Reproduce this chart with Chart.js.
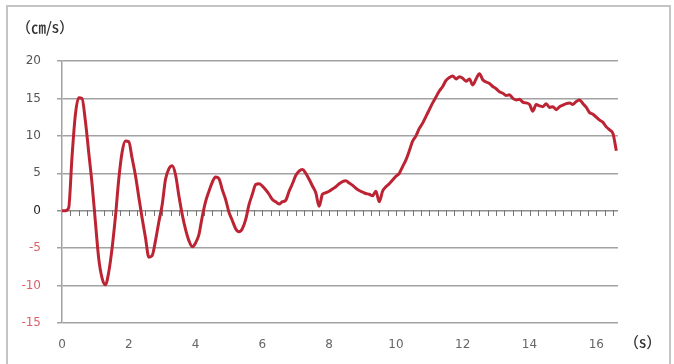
<!DOCTYPE html>
<html>
<head>
<meta charset="utf-8">
<script src="https://cdn.jsdelivr.net/npm/chart.js@4/dist/chart.umd.min.js"></script>
<style>
  html, body { margin: 0; padding: 0; background: #fff; }
  #wrap { position: relative; width: 674px; height: 364px; overflow: hidden; }
  #frame { position: absolute; left: 6px; top: 5px; width: 665px; height: 380px;
           border: 2px solid #c4c4c4; box-sizing: border-box; }
  #chart { position: absolute; left: 0; top: 0; }
  .unit { position: absolute; font-family: "Noto Sans CJK JP", sans-serif; color: #333; white-space: nowrap; }
  #yunit { left: 16px; top: 16px; font-size: 15px; font-weight: 500; }
  #xunit { left: 624px; top: 331px; font-size: 15px; font-weight: 500; }
</style>
</head>
<body>
<div id="wrap">
  <div id="frame"></div>
  <canvas id="chart" width="674" height="364"></canvas>
  <div class="unit" id="yunit">（㎝/s）</div>
  <div class="unit" id="xunit">（s）</div>
</div>
<script>
// Sample times (s)
const times = [
  0.0, 0.1, 0.2, 0.3, 0.4, 0.5, 0.6, 0.7, 0.8, 0.9,
  1.0, 1.1, 1.2, 1.3, 1.4, 1.5, 1.6, 1.7, 1.8, 1.9,
  2.0, 2.1, 2.2, 2.3, 2.4, 2.5, 2.6, 2.7, 2.8, 2.9,
  3.0, 3.1, 3.2, 3.3, 3.4, 3.5, 3.6, 3.7, 3.8, 3.9,
  4.0, 4.1, 4.2, 4.3, 4.4, 4.5, 4.6, 4.7, 4.8, 4.9,
  5.0, 5.1, 5.2, 5.3, 5.4, 5.5, 5.6, 5.7, 5.8, 5.9,
  6.0, 6.1, 6.2, 6.3, 6.4, 6.5, 6.6, 6.7, 6.8, 6.9,
  7.0, 7.1, 7.2, 7.3, 7.4, 7.5, 7.6, 7.7, 7.8, 7.9,
  8.0, 8.1, 8.2, 8.3, 8.4, 8.5, 8.6, 8.7, 8.8, 8.9,
  9.0, 9.1, 9.2, 9.3, 9.4, 9.5, 9.6, 9.7, 9.8, 9.9,
  10.0, 10.1, 10.2, 10.3, 10.4, 10.5, 10.6, 10.7, 10.8, 10.9,
  11.0, 11.1, 11.2, 11.3, 11.4, 11.5, 11.6, 11.7, 11.8, 11.9,
  12.0, 12.1, 12.2, 12.3, 12.4, 12.5, 12.6, 12.7, 12.8, 12.9,
  13.0, 13.1, 13.2, 13.3, 13.4, 13.5, 13.6, 13.7, 13.8, 13.9,
  14.0, 14.1, 14.2, 14.3, 14.4, 14.5, 14.6, 14.7, 14.8, 14.9,
  15.0, 15.1, 15.2, 15.3, 15.4, 15.5, 15.6, 15.7, 15.8, 15.9,
  16.0, 16.1, 16.2, 16.3, 16.4, 16.5, 16.6
];

// Velocity (cm/s)
const velocity = [
  0.0, 0.0, 0.4, 7.2, 12.8, 15.1, 15.0, 12.0, 7.8, 3.6,
  -1.5, -6.4, -9.0, -9.9, -8.2, -5.0, -0.8, 4.2, 7.8, 9.3,
  9.2, 7.0, 4.7, 1.8, -1.0, -3.6, -6.2, -6.0, -4.0, -1.5,
  0.8, 4.2, 5.6, 6.0, 4.8, 2.0, -0.5, -2.5, -4.0, -4.8,
  -4.3, -3.2, -0.8, 1.2, 2.6, 3.8, 4.5, 4.3, 2.8, 1.5,
  -0.2, -1.3, -2.4, -2.8, -2.4, -1.2, 0.8, 2.2, 3.5, 3.6,
  3.3, 2.8, 2.2, 1.5, 1.2, 0.9, 1.2, 1.4, 2.6, 3.6,
  4.7, 5.3, 5.5, 5.0, 4.2, 3.3, 2.4, 0.6, 2.2, 2.4,
  2.6, 2.9, 3.2, 3.6, 3.9, 4.0, 3.7, 3.4, 3.0, 2.7,
  2.5, 2.3, 2.2, 2.0, 2.6, 1.2, 2.6, 3.2, 3.6, 4.1,
  4.6, 5.0, 5.9, 6.8, 8.0, 9.3, 10.0, 11.0, 11.7, 12.6,
  13.5, 14.4, 15.2, 16.0, 16.6, 17.4, 17.8, 18.0, 17.6, 17.9,
  17.7, 17.3, 17.6, 16.8, 17.6, 18.3, 17.5, 17.2, 17.0, 16.6,
  16.3, 15.9, 15.7, 15.4, 15.5, 15.0, 14.8, 14.9, 14.5, 14.4,
  14.2, 13.3, 14.2, 14.0, 13.9, 14.3, 13.8, 13.9, 13.5, 13.9,
  14.1, 14.3, 14.4, 14.2, 14.6, 14.8, 14.3, 13.8, 13.1, 12.9,
  12.5, 12.1, 11.8, 11.2, 10.8, 10.3, 8.0
];

const xTickLabels = [0, 2, 4, 6, 8, 10, 12, 14, 16];
const yTickValues = [-15, -10, -5, 0, 5, 10, 15, 20];

const X_MIN = 0, X_MAX = 16.65;
const MINOR_STEP = 0.25;   // spacing of the small marks along the zero line
const labelFont = { family: 'DejaVu Sans', size: 12 };

const points = times.map((t, i) => ({ x: t, y: velocity[i] }));

// Small tick marks along the zero line, placed through the chart's own scales
const zeroLineTicks = {
  id: 'zeroLineTicks',
  beforeDatasetsDraw(chart) {
    const ctx = chart.ctx;
    const xs = chart.scales.x;
    const ys = chart.scales.y;
    const y0 = Math.round(ys.getPixelForValue(0));
    ctx.save();
    ctx.strokeStyle = '#767676';
    ctx.lineWidth = 1;
    ctx.beginPath();
    for (let k = 1; k * MINOR_STEP <= X_MAX; k++) {
      const px = Math.round(xs.getPixelForValue(k * MINOR_STEP)) + 0.5;
      ctx.moveTo(px, y0 - 1);
      ctx.lineTo(px, y0 + 5);
    }
    ctx.stroke();
    ctx.restore();
  }
};

new Chart(document.getElementById('chart'), {
  type: 'line',
  data: {
    datasets: [{
      data: points,
      borderColor: 'rgb(188, 36, 52)',
      borderWidth: 3,
      pointRadius: 0,
      cubicInterpolationMode: 'monotone',
      fill: false
    }]
  },
  plugins: [zeroLineTicks],
  options: {
    responsive: false,
    animation: false,
    events: [],
    layout: { padding: { top: 61, right: 56, left: 0, bottom: 0 } },
    plugins: { legend: { display: false }, tooltip: { enabled: false } },
    scales: {
      x: {
        type: 'linear',
        position: 'bottom',
        min: X_MIN, max: X_MAX,
        afterBuildTicks: s => { s.ticks = xTickLabels.map(v => ({ value: v })); },
        grid: { display: false },
        border: { display: false },
        ticks: {
          autoSkip: false,
          maxRotation: 0,
          padding: 7,
          color: '#666',
          font: labelFont
        },
        afterFit: s => { s.height = 41; }
      },
      y: {
        type: 'linear',
        min: -15, max: 20,
        afterBuildTicks: s => { s.ticks = yTickValues.map(v => ({ value: v })); },
        grid: {
          color: c => c.tick && c.tick.value === 0 ? '#8e8e8e' : '#a2a2a2',
          lineWidth: 1.5,
          tickLength: 5
        },
        border: { color: '#a2a2a2', width: 1.5 },
        ticks: {
          padding: 16,
          font: labelFont,
          color: c => c.tick && c.tick.value < 0 ? '#d9606a' : (c.tick && c.tick.value === 0 ? '#222' : '#555')
        },
        afterFit: s => { s.width = 62; }
      }
    }
  }
});
</script>
</body>
</html>
